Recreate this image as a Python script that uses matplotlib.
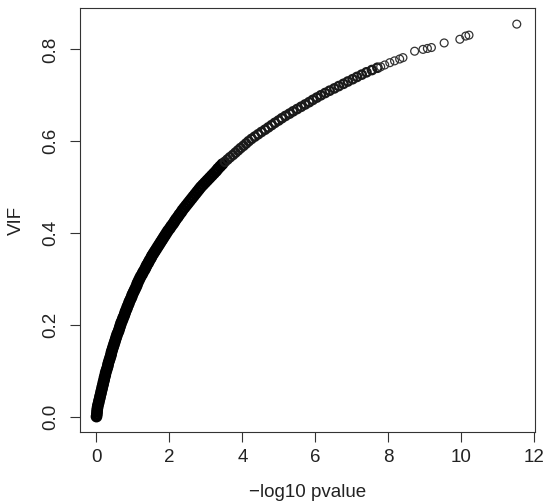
import matplotlib
matplotlib.use("Agg")
import matplotlib.pyplot as plt

plt.rcParams['font.family'] = ['Liberation Sans', 'DejaVu Sans']

# VIF values and matching -log10 p (dense lower part)
vif = [
    0.000, 0.005, 0.010, 0.015, 0.020, 0.025, 0.030, 0.035, 0.040, 0.045,
    0.050, 0.055, 0.060, 0.065, 0.070, 0.075, 0.080, 0.085, 0.090, 0.095,
    0.100, 0.105, 0.110, 0.115, 0.120, 0.125, 0.130, 0.135, 0.140, 0.145,
    0.150, 0.155, 0.160, 0.165, 0.170, 0.175, 0.180, 0.185, 0.190, 0.195,
    0.200, 0.205, 0.210, 0.215, 0.220, 0.225, 0.230, 0.235, 0.240, 0.245,
    0.250, 0.255, 0.260, 0.265, 0.270, 0.275, 0.280, 0.285, 0.290, 0.295,
    0.300, 0.305, 0.310, 0.315, 0.320, 0.325, 0.330, 0.335, 0.340, 0.345,
    0.350, 0.355, 0.360, 0.365, 0.370, 0.375, 0.380, 0.385, 0.390, 0.395,
    0.400, 0.405, 0.410, 0.415, 0.420, 0.425, 0.430, 0.435, 0.440, 0.445,
    0.450, 0.455, 0.460, 0.465, 0.470, 0.475, 0.480, 0.485, 0.490, 0.495,
    0.500, 0.505, 0.510, 0.515, 0.520, 0.525, 0.530, 0.535, 0.540, 0.545,
    0.550,
]
logp = [
    0.00, 0.01, 0.015, 0.02, 0.03, 0.04, 0.06, 0.07, 0.09, 0.10,
    0.12, 0.13, 0.15, 0.16, 0.18, 0.19, 0.21, 0.22, 0.24, 0.25,
    0.27, 0.29, 0.31, 0.32, 0.34, 0.36, 0.38, 0.40, 0.41, 0.43,
    0.45, 0.47, 0.49, 0.51, 0.53, 0.55, 0.57, 0.60, 0.62, 0.64,
    0.66, 0.68, 0.71, 0.73, 0.76, 0.78, 0.80, 0.83, 0.85, 0.88,
    0.90, 0.93, 0.96, 0.98, 1.01, 1.04, 1.07, 1.10, 1.12, 1.15,
    1.18, 1.21, 1.25, 1.28, 1.32, 1.35, 1.38, 1.42, 1.45, 1.49,
    1.52, 1.56, 1.60, 1.64, 1.68, 1.72, 1.76, 1.80, 1.84, 1.88,
    1.92, 1.96, 2.01, 2.05, 2.10, 2.14, 2.18, 2.23, 2.27, 2.32,
    2.36, 2.41, 2.46, 2.51, 2.56, 2.61, 2.66, 2.71, 2.76, 2.81,
    2.86, 2.92, 2.98, 3.04, 3.10, 3.16, 3.22, 3.28, 3.33, 3.39,
    3.45,
]

# middle stretch, circles still overlapping
vif_mid = [
    0.555, 0.560, 0.565, 0.570, 0.575, 0.580, 0.585, 0.590, 0.595,
    0.600, 0.605, 0.610, 0.615, 0.620, 0.625, 0.630, 0.635, 0.640, 0.645,
    0.650, 0.655, 0.660, 0.665, 0.670, 0.675, 0.680, 0.685, 0.690, 0.695,
    0.700, 0.705, 0.710, 0.715, 0.720, 0.725, 0.730, 0.735, 0.740, 0.745,
    0.750, 0.755, 0.760,
]
logp_mid = [
    3.52, 3.59, 3.66, 3.74, 3.81, 3.88, 3.95, 4.03, 4.10,
    4.17, 4.25, 4.34, 4.43, 4.52, 4.62, 4.71, 4.80, 4.89, 4.99,
    5.08, 5.18, 5.29, 5.39, 5.50, 5.61, 5.72, 5.83, 5.93, 6.04,
    6.15, 6.27, 6.39, 6.52, 6.64, 6.77, 6.89, 7.02, 7.14, 7.27,
    7.40, 7.55, 7.70,
]

# the sparse top end, single circles
logp_top = [7.79, 7.90, 8.04, 8.17, 8.31, 8.40, 8.72, 8.95, 9.07, 9.18,
            9.53, 9.96, 10.12, 10.21, 11.52]
vif_top = [0.762, 0.766, 0.771, 0.775, 0.779, 0.782, 0.796, 0.800, 0.802, 0.804,
           0.814, 0.822, 0.829, 0.831, 0.855]

xticks = [0, 2, 4, 6, 8, 10, 12]
yticks = [0.0, 0.2, 0.4, 0.6, 0.8]

fig = plt.figure(figsize=(5.45, 5.04), dpi=100)
ax = fig.add_axes([0.147, 0.143, 0.834, 0.841])

# dense part is solid black in the original, many overlapping circles
ax.scatter(logp, vif, s=40, facecolors='none', edgecolors='black', linewidths=2.1)
ax.scatter(logp_mid, vif_mid, s=36, facecolors='none', edgecolors='#1a1a1a', linewidths=1.7)
ax.scatter(logp_top, vif_top, s=32, facecolors='none', edgecolors='#333333', linewidths=0.9)

ax.set_xlim(-0.449, 12.01)
ax.set_ylim(-0.0334, 0.89)
ax.set_xticks(xticks)
ax.set_xticklabels([str(t) for t in xticks])
ax.set_yticks(yticks)
ax.set_yticklabels(['%.1f' % t for t in yticks], rotation=90, va='center')

for sp in ax.spines.values():
    sp.set_linewidth(0.8)
    sp.set_color('#333333')
ax.tick_params(length=7.2, width=0.8, color='#333333', labelsize=13.5,
               labelcolor='#222222')
ax.tick_params(axis='x', pad=5)
ax.tick_params(axis='y', pad=8)

ax.set_xlabel('\u2212log10 pvalue', fontsize=13.5, color='#222222', labelpad=13)
ax.set_ylabel('VIF', fontsize=13.5, color='#222222', labelpad=12)

plt.savefig('out.png', dpi=100)
